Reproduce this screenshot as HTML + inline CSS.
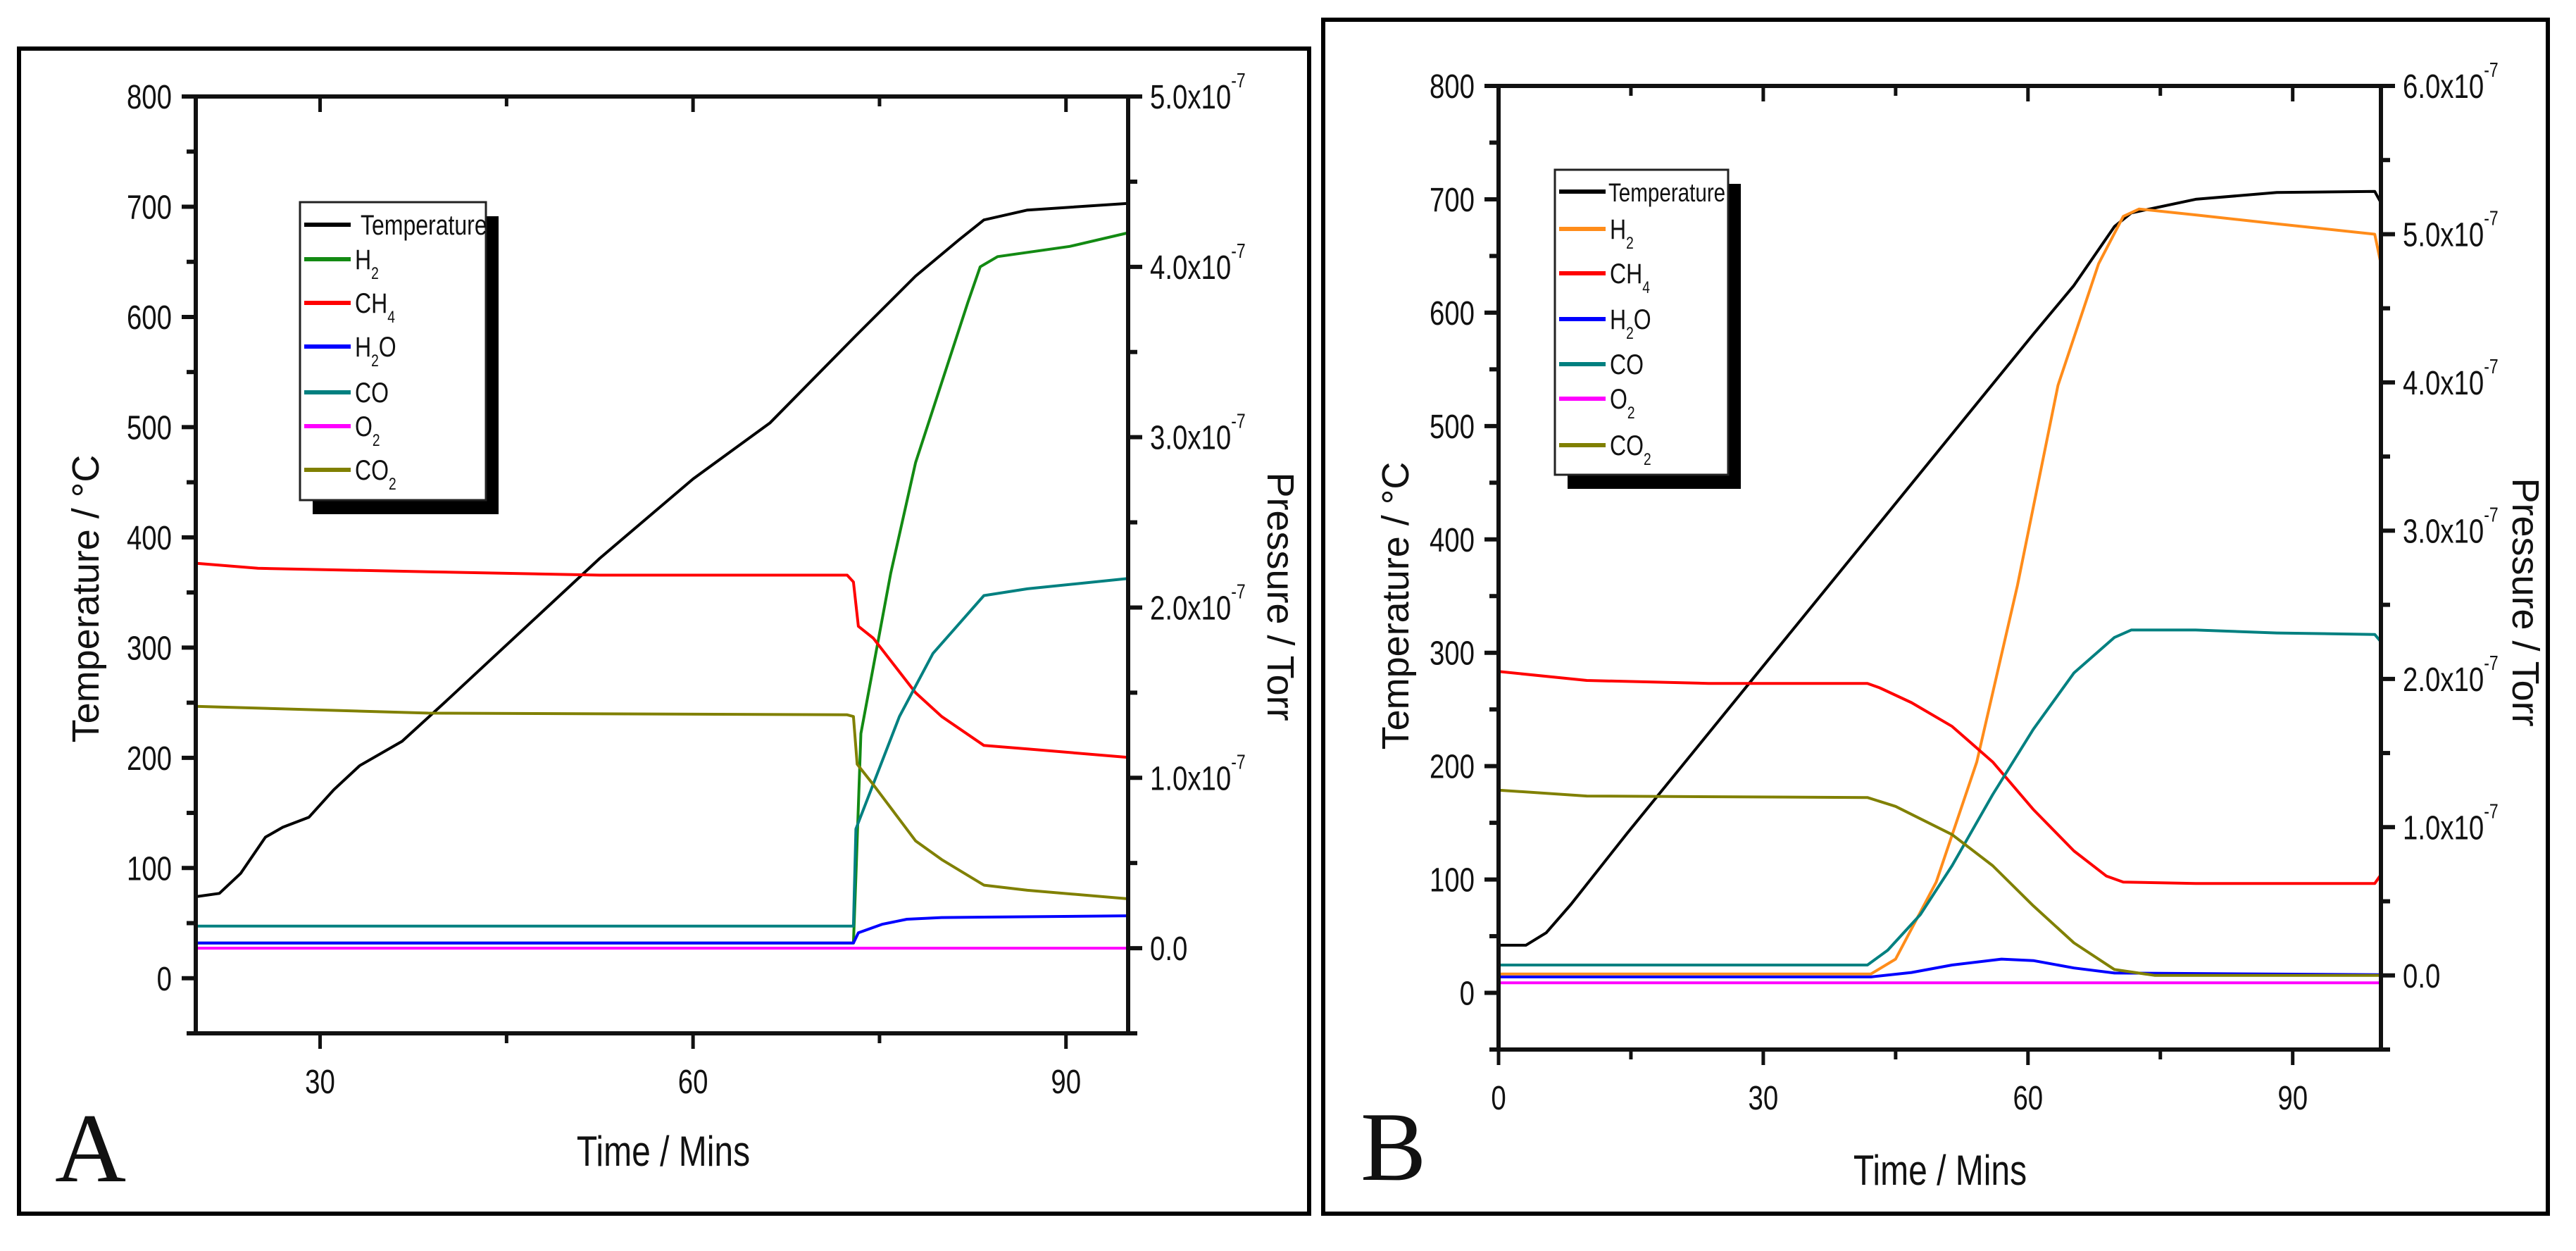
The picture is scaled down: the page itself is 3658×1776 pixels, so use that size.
<!DOCTYPE html>
<html><head><meta charset="utf-8"><style>
html,body{margin:0;padding:0;background:#fff;}
svg{display:block;}
text{font-family:"Liberation Sans",sans-serif;fill:#111;}
.serif{font-family:"Liberation Serif",serif;}
</style></head><body>
<svg id="fig" width="3658" height="1776" viewBox="0 0 3658 1776" xmlns="http://www.w3.org/2000/svg">
<rect x="0" y="0" width="3658" height="1776" fill="#fff"/>
<rect x="27" y="69" width="1832" height="1654" fill="none" stroke="#000" stroke-width="6"/>
<rect x="1879" y="28" width="1739" height="1695" fill="none" stroke="#000" stroke-width="6"/>
<text class="serif" x="78" y="1677" font-size="140">A</text>
<text class="serif" x="1932" y="1675" font-size="140">B</text>
<g id="pa"></g>
<g id="pb"></g>
</svg>
<script>
// ---------- Panel A data ----------
const aTempT = [20,21.9,23.6,25.6,27.0,29.1,31.1,33.2,36.6,40.1,44.2,48.3,52.5,60.0,66.2,73.1,77.9,81.4,83.4,86.9,95];
const aTempV = [74,77,95,128,137,146,171,193,215,251,294,337,381,453,504,583,637,670,688,697,703];
const aH2T = [20,72.9,73.1,73.5,75.9,77.9,80.0,82.1,83.1,84.5,90.3,95];
const aH2V = [0.03,0.03,0.42,1.26,2.20,2.85,3.32,3.79,4.0,4.06,4.12,4.2];
const aCH4T = [20,25,38.7,52.5,72.4,72.9,73.3,74.5,77.9,80,83.4,86.9,95];
const aCH4V = [2.26,2.23,2.21,2.19,2.19,2.15,1.89,1.82,1.50,1.36,1.19,1.17,1.12];
const aH2OT = [20,72.9,73.3,75.2,77.2,80,95];
const aH2OV = [0.03,0.03,0.09,0.14,0.17,0.18,0.19];
const aCOT = [20,72.9,73.1,76.6,79.3,83.4,86.9,95];
const aCOV = [0.13,0.13,0.70,1.36,1.73,2.07,2.11,2.17];
const aO2T = [20,95];
const aO2V = [0.0,0.0];
const aCO2T = [20,38.7,72.4,72.9,73.2,74.5,77.9,80,83.4,86.9,95];
const aCO2V = [1.42,1.38,1.37,1.36,1.08,0.96,0.63,0.52,0.37,0.34,0.29];
const aLeftTicks = [0,100,200,300,400,500,600,700,800];
const aRightTicks = ["0.0","1.0","2.0","3.0","4.0","5.0"];
const aXTicks = [30,60,90];

// ---------- Panel B data ----------
const bTempT = [0,3.1,5.4,8.2,14.6,23.8,33.0,42.2,51.4,60.6,65.2,69.8,71.7,79,88.2,99.3,100];
const bTempV = [42,42,53,78,141,229,317,405,493,581,624,676,688,700,706,707,697];
const bH2T = [0,42.2,45,49.6,54.2,58.8,63.4,68,70.8,72.6,79,88.2,99.3,100];
const bH2V = [0.01,0.01,0.11,0.63,1.44,2.63,3.98,4.80,5.12,5.17,5.13,5.07,5.0,4.8];
const bCH4T = [0,10,23.8,41.8,43.2,46.8,51.4,56,60.6,65.2,68.9,70.8,79,99.3,100];
const bCH4V = [2.05,1.99,1.97,1.97,1.94,1.84,1.68,1.44,1.12,0.84,0.67,0.63,0.62,0.62,0.68];
const bH2OT = [0,42.2,46.8,51.4,57,60.6,65.2,69.8,100];
const bH2OV = [-0.01,-0.01,0.02,0.07,0.11,0.10,0.05,0.016,0.005];
const bCOT = [0,41.8,44.1,47.8,51.4,56,60.6,65.2,69.8,71.7,79,88.2,99.3,100];
const bCOV = [0.07,0.07,0.17,0.41,0.74,1.22,1.66,2.04,2.28,2.33,2.33,2.31,2.30,2.25];
const bO2T = [0,100];
const bO2V = [-0.05,-0.05];
const bCO2T = [0,10,41.8,45,51.4,56,60.6,65.2,69.8,74.4,100];
const bCO2V = [1.25,1.21,1.20,1.14,0.95,0.74,0.47,0.22,0.04,0.0,0.0];
const bLeftTicks = [0,100,200,300,400,500,600,700,800];
const bRightTicks = ["0.0","1.0","2.0","3.0","4.0","5.0","6.0"];
const bXTicks = [0,30,60,90];

const NS = "http://www.w3.org/2000/svg";
const NARROW = 0.8;
function mk(parent, tag, attrs, txt){
  const e = document.createElementNS(NS, tag);
  for (const k in attrs) e.setAttribute(k, attrs[k]);
  if (txt !== undefined) e.textContent = txt;
  parent.appendChild(e);
  return e;
}
function ntext(parent, x, y, attrs, txt){
  attrs = Object.assign({x: 0, y: 0, transform: 'translate(' + x + ',' + y + ') scale(' + NARROW + ',1)'}, attrs);
  return mk(parent, 'text', attrs, txt);
}

function panel(g, cfg){
  const {L,R,T,B,xMin,xMax,yMin,yMax,pMin,pMax,fs} = cfg;
  const xs = t => L + (t - xMin) / (xMax - xMin) * (R - L);
  const ys = v => B - (v - yMin) / (yMax - yMin) * (B - T);
  const ps = p => B - (p - pMin) / (pMax - pMin) * (B - T);

  const series = cfg.series;
  series.forEach(s => {
    const sc = s.axis === 'T' ? ys : ps;
    let d = '';
    for (let i = 0; i < s.t.length; i++) d += (i ? 'L' : 'M') + xs(s.t[i]).toFixed(1) + ' ' + sc(s.v[i]).toFixed(1);
    const p = mk(g, 'path', {d: d, fill: 'none', stroke: s.color, 'stroke-width': 4, 'stroke-linejoin': 'round'});
    
    
  });

  const ax = mk(g, 'rect', {x: L, y: T, width: R - L, height: B - T, fill: 'none', stroke: '#111', 'stroke-width': 6});
  
  

  for (let v = yMin; v <= yMax; v += 50) {
    const major = (v % 100 === 0);
    const tk = mk(g, 'line', {x1: L - (major ? 20 : 13), x2: L, y1: ys(v), y2: ys(v), stroke: '#111', 'stroke-width': 6});
    
    
  }
  cfg.leftTicks.forEach(v => {
    const t = ntext(g, L - 34, ys(v) + 17, {'font-size': fs, 'text-anchor': 'end'}, String(v));
    
    
  });
  for (let k = 0; pMin + k * 0.5 <= pMax + 1e-9; k++) {
    const p = pMin + k * 0.5;
    const major = Math.abs(p - Math.round(p)) < 1e-9;
    const tk = mk(g, 'line', {x1: R, x2: R + (major ? 20 : 13), y1: ps(p), y2: ps(p), stroke: '#111', 'stroke-width': 6});
    
    
  }
  cfg.rightTicks.forEach(s => {
    const p = parseFloat(s);
    const t = ntext(g, R + 31, ps(p) + 17, {'font-size': fs});
    
    
    if (p === 0) { t.textContent = s; }
    else {
      mk(t, 'tspan', {}, s + 'x10');
      mk(t, 'tspan', {dy: -30, 'font-size': fs * 0.6}, '-7');
    }
  });
  for (let tm = Math.ceil(xMin / 15) * 15; tm <= xMax; tm += 15) {
    const major = (tm % 30 === 0);
    const len = major ? 22 : 14;
    const tb = mk(g, 'line', {x1: xs(tm), x2: xs(tm), y1: B, y2: B + len, stroke: '#111', 'stroke-width': 5});
    
    
    const tt = mk(g, 'line', {x1: xs(tm), x2: xs(tm), y1: T, y2: T + len, stroke: '#111', 'stroke-width': 5});
    
    
  }
  cfg.xTicks.forEach(v => {
    const t = ntext(g, xs(v), B + 85, {'font-size': fs, 'text-anchor': 'middle'}, String(v));
    
    
  });

  const xt = ntext(g, cfg.xTitle[0], cfg.xTitle[1], {'font-size': 60, 'text-anchor': 'middle'}, 'Time /  Mins');
  
  
  const yt = mk(g, 'text', {x: 0, y: 0, 'font-size': 54, 'text-anchor': 'middle',
    transform: 'translate(' + cfg.yTitle[0] + ',' + cfg.yTitle[1] + ') rotate(-90)'}, 'Temperature  /  \u00B0C');
  
  
  const rt = mk(g, 'text', {x: 0, y: 0, 'font-size': 54, 'text-anchor': 'middle',
    transform: 'translate(' + cfg.rTitle[0] + ',' + cfg.rTitle[1] + ') rotate(90)'}, 'Pressure  /  Torr');
  
  

  const lg = cfg.legend;
  const sh = mk(g, 'rect', {x: lg.x + 18, y: lg.y + 20, width: lg.w, height: lg.h, fill: '#000'});
  
  
  const bx = mk(g, 'rect', {x: lg.x, y: lg.y, width: lg.w, height: lg.h, fill: '#fff', stroke: '#222', 'stroke-width': 3});
  
  
  const labels = [['Temperature'],['H','2'],['CH','4'],['H','2','O'],['CO'],['O','2'],['CO','2']];
  series.forEach((s, i) => {
    const y = lg.rows[i];
    const ln = mk(g, 'line', {x1: lg.x + 6, x2: lg.x + 72, y1: y, y2: y, stroke: s.color, 'stroke-width': 6});
    
    
    const t = ntext(g, lg.x + (i === 0 ? lg.firstOff : 78), y + 14, {'font-size': i === 0 ? lg.firstFs : 40});
    
    
    const parts = labels[i];
    mk(t, 'tspan', {}, parts[0]);
    if (parts[1]) mk(t, 'tspan', {dy: 14, 'font-size': 24}, parts[1]);
    if (parts[2]) mk(t, 'tspan', {dy: -14}, parts[2]);
  });
}

const colors = {temp:'#000000', h2A:'#138a13', h2B:'#ff8c1a', ch4:'#ff0000', h2o:'#0000ff', co:'#008080', o2:'#ff00ff', co2:'#808000'};

panel(document.getElementById('pa'), {
  L:278, R:1602, T:137, B:1467, xMin:20, xMax:95, yMin:-50, yMax:800, pMin:-0.5, pMax:5.0, fs:48,
  leftTicks:aLeftTicks, rightTicks:aRightTicks, xTicks:aXTicks,
  xTitle:[942,1655], yTitle:[140,850], rTitle:[1800,847],
  legend:{x:426, y:287, w:264, h:423, rows:[319,368,430,492,557,605,667], firstOff:86, firstFs:40},
  series:[
    {name:'temperature', axis:'T', t:aTempT, v:aTempV, color:colors.temp},
    {name:'h2', axis:'P', t:aH2T, v:aH2V, color:colors.h2A},
    {name:'ch4', axis:'P', t:aCH4T, v:aCH4V, color:colors.ch4},
    {name:'h2o', axis:'P', t:aH2OT, v:aH2OV, color:colors.h2o},
    {name:'co', axis:'P', t:aCOT, v:aCOV, color:colors.co},
    {name:'o2', axis:'P', t:aO2T, v:aO2V, color:colors.o2},
    {name:'co2', axis:'P', t:aCO2T, v:aCO2V, color:colors.co2}
  ]
});

panel(document.getElementById('pb'), {
  L:2128, R:3381, T:122, B:1490, xMin:0, xMax:100, yMin:-50, yMax:800, pMin:-0.5, pMax:6.0, fs:48,
  leftTicks:bLeftTicks, rightTicks:bRightTicks, xTicks:bXTicks,
  xTitle:[2755,1682], yTitle:[2000,860], rTitle:[3568,855],
  legend:{x:2208, y:241, w:246, h:433, rows:[272,325,388,453,517,566,632], firstOff:76, firstFs:37},
  series:[
    {name:'temperature', axis:'T', t:bTempT, v:bTempV, color:colors.temp},
    {name:'h2', axis:'P', t:bH2T, v:bH2V, color:colors.h2B},
    {name:'ch4', axis:'P', t:bCH4T, v:bCH4V, color:colors.ch4},
    {name:'h2o', axis:'P', t:bH2OT, v:bH2OV, color:colors.h2o},
    {name:'co', axis:'P', t:bCOT, v:bCOV, color:colors.co},
    {name:'o2', axis:'P', t:bO2T, v:bO2V, color:colors.o2},
    {name:'co2', axis:'P', t:bCO2T, v:bCO2V, color:colors.co2}
  ]
});
</script>
</body></html>
